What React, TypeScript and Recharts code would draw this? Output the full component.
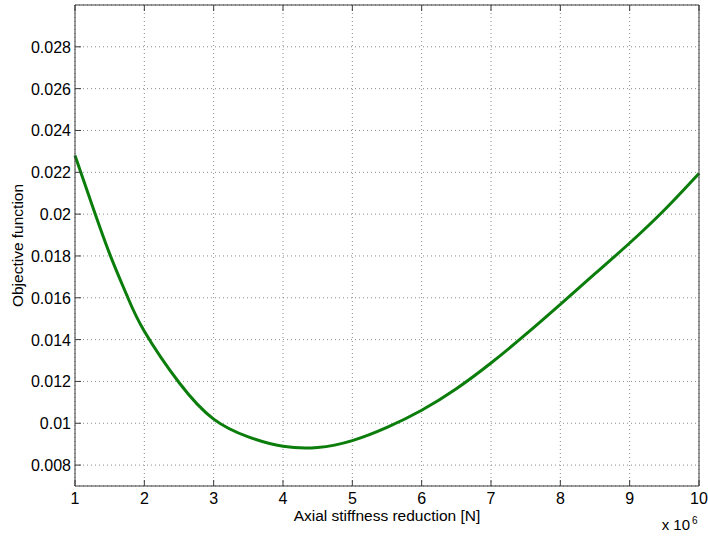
import React from 'react';
import { LineChart, Line, XAxis, YAxis, CartesianGrid } from 'recharts';

// stiffness reduction, in units of 10^6 N
const stiffness = [1, 1.25, 1.5, 1.75, 2, 2.5, 3, 3.5, 4, 4.5, 5, 5.5, 6, 6.5, 7, 7.5, 8, 8.5, 9, 9.5, 10];
const objective = [
  0.0228, 0.0204, 0.0181, 0.0161, 0.0144, 0.01195, 0.0102, 0.00935, 0.0089, 0.00884, 0.00917,
  0.0098, 0.01062, 0.01165, 0.01288, 0.01425, 0.01569, 0.01715, 0.01862, 0.0202, 0.02195,
];

const xTicks = [1, 2, 3, 4, 5, 6, 7, 8, 9, 10];
const yTicks = [0.008, 0.01, 0.012, 0.014, 0.016, 0.018, 0.02, 0.022, 0.024, 0.026, 0.028];

const data = stiffness.map((x, i) => ({ x, y: objective[i] }));

const FONT = '"Liberation Sans", Arial, sans-serif';
const AXIS = '#3a3a3a';

const BottomTick = (props: any) => {
  const { x, y, payload } = props;
  return (
    <g>
      <line x1={x} y1={y} x2={x} y2={y - 6} stroke={AXIS} />
      <text x={x} y={y + 18} textAnchor="middle" fontFamily={FONT} fontSize={16} fill="#000">
        {payload.value}
      </text>
    </g>
  );
};

const TopTick = (props: any) => {
  const { x, y } = props;
  return <line x1={x} y1={y} x2={x} y2={y + 6} stroke={AXIS} />;
};

const LeftTick = (props: any) => {
  const { x, y, payload } = props;
  return (
    <g>
      <line x1={x} y1={y} x2={x + 6} y2={y} stroke={AXIS} />
      <text x={x - 4} y={y + 6} textAnchor="end" fontFamily={FONT} fontSize={16} fill="#000">
        {String(+payload.value.toFixed(3))}
      </text>
    </g>
  );
};

const RightTick = (props: any) => {
  const { x, y } = props;
  return <line x1={x} y1={y} x2={x - 6} y2={y} stroke={AXIS} />;
};

const XLabel = (props: any) => {
  const { x, y, width } = props.viewBox;
  return (
    <g fontFamily={FONT} fill="#000">
      <text x={x + width / 2} y={y + 35} textAnchor="middle" fontSize={15.5}>
        Axial stiffness reduction [N]
      </text>
      <text x={x + width - 9} y={y + 44} textAnchor="end" fontSize={15}>
        x 10
      </text>
      <text x={x + width - 7} y={y + 38} textAnchor="start" fontSize={10}>
        6
      </text>
    </g>
  );
};

const YLabel = (props: any) => {
  const { y, height } = props.viewBox;
  const cy = y + height / 2;
  return (
    <text
      x={23}
      y={cy}
      transform={`rotate(-90, 23, ${cy})`}
      textAnchor="middle"
      fontFamily={FONT}
      fontSize={15.5}
      fill="#000"
    >
      Objective function
    </text>
  );
};

export default function App() {
  return (
    <div style={{ position: 'absolute', left: 0, top: 0, background: '#fff' }}>
      <LineChart width={708} height={536} data={data} margin={{ top: 4, right: 8, bottom: 0, left: 0 }}>
        <CartesianGrid xAxisId="bottom" yAxisId="left" stroke="#8c8c8c" strokeDasharray="1 3" />
        <XAxis
          xAxisId="bottom"
          dataKey="x"
          type="number"
          domain={[1, 10]}
          ticks={xTicks}
          height={50}
          tickSize={0}
          tickMargin={0}
          tick={<BottomTick />}
          stroke={AXIS}
          label={<XLabel />}
        />
        <XAxis
          xAxisId="top"
          orientation="top"
          dataKey="x"
          type="number"
          domain={[1, 10]}
          ticks={xTicks}
          height={1}
          tickSize={0}
          tickMargin={0}
          tick={<TopTick />}
          stroke={AXIS}
        />
        <YAxis
          yAxisId="left"
          type="number"
          domain={[0.007, 0.03]}
          ticks={yTicks}
          width={75}
          tickSize={0}
          tickMargin={0}
          tick={<LeftTick />}
          stroke={AXIS}
          label={<YLabel />}
        />
        <YAxis
          yAxisId="right"
          orientation="right"
          type="number"
          domain={[0.007, 0.03]}
          ticks={yTicks}
          width={1}
          tickSize={0}
          tickMargin={0}
          tick={<RightTick />}
          stroke={AXIS}
        />
        <Line
          xAxisId="bottom"
          yAxisId="left"
          type="natural"
          dataKey="y"
          stroke="#0b7d0b"
          strokeWidth={3}
          dot={false}
          isAnimationActive={false}
        />
      </LineChart>
    </div>
  );
}
